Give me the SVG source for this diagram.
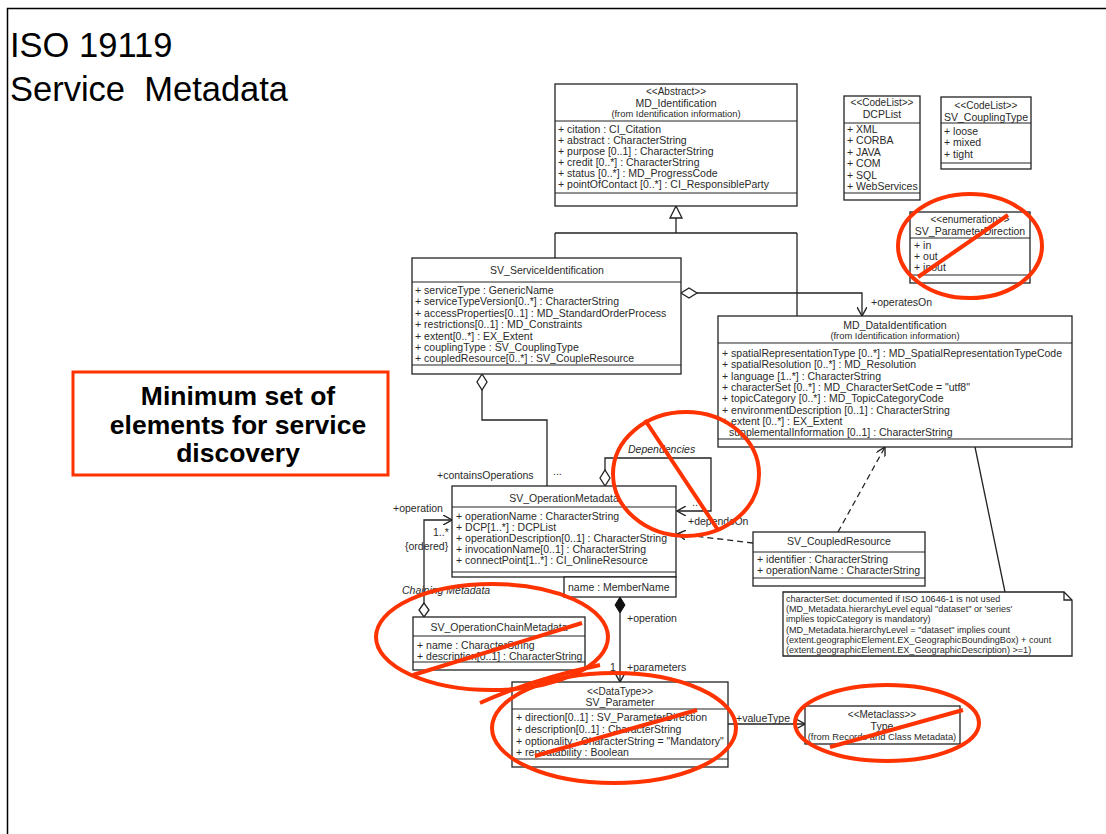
<svg xmlns="http://www.w3.org/2000/svg" width="1106" height="834" viewBox="0 0 1106 834">
<style>
.box{fill:#fff;stroke:#222;stroke-width:1.3}
.dv{stroke:#222;stroke-width:1.2}
.t{font-family:"Liberation Sans",Arial,sans-serif;font-size:10.5px;fill:#2a2a2a}
.s{font-size:10px}
.f{font-size:9.4px}
.nt{font-size:9.1px}
.c{text-anchor:middle}
.i{font-style:italic}
.ln{stroke:#222;stroke-width:1.3;fill:none}
.dash{stroke-dasharray:6 4}
.red{fill:none;stroke:#ff3300;stroke-width:4}
.hd{fill:#fff;stroke:#222;stroke-width:1.3}
.fd{fill:#111;stroke:#111;stroke-width:1}
.big{font-family:"Liberation Sans",Arial,sans-serif;font-size:26.5px;font-weight:bold;text-anchor:middle;fill:#000}
.ttl{font-family:"Liberation Sans",Arial,sans-serif;font-size:34.5px;fill:#000}
</style>
<defs>
<marker id="open" viewBox="0 0 10 10" refX="9" refY="5" markerWidth="10" markerHeight="10" markerUnits="userSpaceOnUse" orient="auto">
<path d="M0,0 L9,5 L0,10" fill="none" stroke="#222" stroke-width="1.4"/>
</marker>
</defs>
<rect width="1106" height="834" fill="#fff"/>
<path d="M7.5,834 V8.5 H1106" fill="none" stroke="#000" stroke-width="1.5"/>
<g id="title">
<text class="ttl" x="10" y="57">ISO 19119</text>
<text class="ttl" x="10" y="101" xml:space="preserve">Service  Metadata</text>
</g>
<g id="connectors">
<polygon class="hd" points="676,206 670,218 682,218"/>
<path class="ln" d="M676,218 V233 M555,233 H797 M555,233 V258 M797,233 V316"/>
<polygon class="hd" points="681,293 689,288 697,293 689,298"/>
<path class="ln" d="M697,293 H862 V316" marker-end="url(#open)"/>
<polygon class="hd" points="482,374 477,382 482,390 487,382"/>
<path class="ln" d="M482,390 V420 H547 V486"/>
<polygon class="hd" points="605,486 600,478 605,470 610,478"/>
<path class="ln" d="M605,470 V458 H711 V511 H677" marker-end="url(#open)"/>
<polygon class="hd" points="424,603 419,610 424,617 429,610"/>
<path class="ln" d="M424,603 V520 H452" marker-end="url(#open)"/>
<polygon class="fd" points="620,597 615,605 620,613 625,605"/>
<path class="ln" d="M620,613 V682" marker-end="url(#open)"/>
<path class="ln" d="M728,724 H805" marker-end="url(#open)"/>
<path class="ln dash" d="M753,543 L677,534" marker-end="url(#open)"/>
<path class="ln dash" d="M838,532 L885,447" marker-end="url(#open)"/>
<path class="ln" d="M975,447 L1005,592"/>
<text class="t" x="871" y="306">+operatesOn</text>
<text class="t" x="437" y="479">+containsOperations</text>
<text class="t" x="553" y="475">...</text>
<text class="t i" x="628" y="453">Dependencies</text>
<text class="t" x="688" y="525">+dependsOn</text>
<text class="t" x="692" y="506">..</text>
<text class="t" x="393" y="512">+operation</text>
<text class="t" x="433" y="536">1..*</text>
<text class="t" x="405" y="550">{ordered}</text>
<text class="t i" x="402" y="594">Chaining Metadata</text>
<text class="t" x="627" y="622">+operation</text>
<text class="t" x="610" y="671">1</text>
<text class="t" x="627" y="671">+parameters</text>
<text class="t" x="736" y="722">+valueType</text>
</g>
<g id="MD_Identification">
<rect class="box" x="555" y="84" width="242" height="122"/>
<text class="t s c" x="676" y="95">&lt;&lt;Abstract&gt;&gt;</text>
<text class="t c" x="676" y="107">MD_Identification</text>
<text class="t f c" x="676" y="117">(from Identification information)</text>
<line class="dv" x1="555" y1="121" x2="797" y2="121"/>
<text class="t" x="558" y="133">+ citation : CI_Citation</text>
<text class="t" x="558" y="144">+ abstract : CharacterString</text>
<text class="t" x="558" y="155">+ purpose [0..1] : CharacterString</text>
<text class="t" x="558" y="166">+ credit [0..*] : CharacterString</text>
<text class="t" x="558" y="177">+ status [0..*] : MD_ProgressCode</text>
<text class="t" x="558" y="188">+ pointOfContact [0..*] : CI_ResponsibleParty</text>
<line class="dv" x1="555" y1="193" x2="797" y2="193"/>
</g>
<g id="DCPList">
<rect class="box" x="844" y="96" width="76" height="104"/>
<text class="t s c" x="882" y="106">&lt;&lt;CodeList&gt;&gt;</text>
<text class="t c" x="882" y="118">DCPList</text>
<line class="dv" x1="844" y1="123" x2="920" y2="123"/>
<text class="t" x="847" y="133">+ XML</text>
<text class="t" x="847" y="144">+ CORBA</text>
<text class="t" x="847" y="156">+ JAVA</text>
<text class="t" x="847" y="167">+ COM</text>
<text class="t" x="847" y="178.5">+ SQL</text>
<text class="t" x="847" y="190">+ WebServices</text>
<line class="dv" x1="844" y1="193" x2="920" y2="193"/>
</g>
<g id="SV_CouplingType">
<rect class="box" x="941" y="97" width="90" height="72"/>
<text class="t s c" x="986" y="109">&lt;&lt;CodeList&gt;&gt;</text>
<text class="t c" x="986" y="121">SV_CouplingType</text>
<line class="dv" x1="941" y1="123" x2="1031" y2="123"/>
<text class="t" x="944" y="134.5">+ loose</text>
<text class="t" x="944" y="146">+ mixed</text>
<text class="t" x="944" y="158">+ tight</text>
<line class="dv" x1="941" y1="163" x2="1031" y2="163"/>
</g>
<g id="SV_ParameterDirection">
<rect class="box" x="910" y="212" width="120" height="71"/>
<text class="t s c" x="970" y="223">&lt;&lt;enumeration&gt;&gt;</text>
<text class="t c" x="970" y="235">SV_ParameterDirection</text>
<line class="dv" x1="910" y1="238" x2="1030" y2="238"/>
<text class="t" x="914" y="248.5">+ in</text>
<text class="t" x="914" y="259.5">+ out</text>
<text class="t" x="914" y="270.5">+ inout</text>
<line class="dv" x1="910" y1="275" x2="1030" y2="275"/>
</g>
<g id="SV_ServiceIdentification">
<rect class="box" x="412" y="258" width="269" height="116"/>
<text class="t c" x="547" y="274">SV_ServiceIdentification</text>
<line class="dv" x1="412" y1="282" x2="681" y2="282"/>
<text class="t" x="415" y="294">+ serviceType : GenericName</text>
<text class="t" x="415" y="305">+ serviceTypeVersion[0..*] : CharacterString</text>
<text class="t" x="415" y="316.5">+ accessProperties[0..1] : MD_StandardOrderProcess</text>
<text class="t" x="415" y="328">+ restrictions[0..1] : MD_Constraints</text>
<text class="t" x="415" y="339.5">+ extent[0..*] : EX_Extent</text>
<text class="t" x="415" y="350.5">+ couplingType : SV_CouplingType</text>
<text class="t" x="415" y="361.5">+ coupledResource[0..*] : SV_CoupleResource</text>
<line class="dv" x1="412" y1="365" x2="681" y2="365"/>
</g>
<g id="MD_DataIdentification">
<rect class="box" x="718" y="316" width="354" height="131"/>
<text class="t c" x="895" y="329">MD_DataIdentification</text>
<text class="t f c" x="895" y="339">(from Identification information)</text>
<line class="dv" x1="718" y1="343" x2="1072" y2="343"/>
<text class="t" x="722" y="357">+ spatialRepresentationType [0..*] : MD_SpatialRepresentationTypeCode</text>
<text class="t" x="722" y="368">+ spatialResolution [0..*] : MD_Resolution</text>
<text class="t" x="722" y="379.5">+ language [1..*] : CharacterString</text>
<text class="t" x="722" y="391">+ characterSet [0..*] : MD_CharacterSetCode = "utf8"</text>
<text class="t" x="722" y="402">+ topicCategory [0..*] : MD_TopicCategoryCode</text>
<text class="t" x="722" y="413.5">+ environmentDescription  [0..1] : CharacterString</text>
<text class="t" x="722" y="425">+ extent [0..*] : EX_Extent</text>
<text class="t" x="729" y="436">supplementalInformation [0..1] : CharacterString</text>
<line class="dv" x1="718" y1="439" x2="1072" y2="439"/>
</g>
<g id="SV_OperationMetadata">
<rect class="box" x="452" y="486" width="224" height="91"/>
<text class="t c" x="564" y="501.5">SV_OperationMetadata</text>
<line class="dv" x1="452" y1="507" x2="676" y2="507"/>
<text class="t" x="456" y="519.5">+ operationName : CharacterString</text>
<text class="t" x="456" y="530.5">+ DCP[1..*] : DCPList</text>
<text class="t" x="456" y="542">+ operationDescription[0..1] : CharacterString</text>
<text class="t" x="456" y="553">+ invocationName[0..1] : CharacterString</text>
<text class="t" x="456" y="564">+ connectPoint[1..*] : CI_OnlineResource</text>
<line class="dv" x1="452" y1="572" x2="676" y2="572"/>
<rect class="box" x="564" y="577" width="112" height="20"/>
<text class="t" x="568" y="591">name : MemberName</text>
</g>
<g id="SV_CoupledResource">
<rect class="box" x="753" y="532" width="172" height="54"/>
<text class="t c" x="839" y="545">SV_CoupledResource</text>
<line class="dv" x1="753" y1="552" x2="925" y2="552"/>
<text class="t" x="757" y="563">+ identifier : CharacterString</text>
<text class="t" x="757" y="574">+ operationName : CharacterString</text>
<line class="dv" x1="753" y1="578" x2="925" y2="578"/>
</g>
<g id="note">
<path class="box" d="M783,592 H1064 L1072,600 V656 H783 Z"/>
<path class="ln" d="M1064,592 V600 H1072"/>
<text class="t nt" x="786" y="602">characterSet: documented if ISO 10646-1 is not used</text>
<text class="t nt" x="786" y="612.2">(MD_Metadata.hierarchyLevel equal "dataset" or 'series'</text>
<text class="t nt" x="786" y="622.4">implies topicCategory is mandatory)</text>
<text class="t nt" x="786" y="632.6">(MD_Metadata.hierarchyLevel = "dataset" implies count</text>
<text class="t nt" x="786" y="642.8">(extent.geographicElement.EX_GeographicBoundingBox) + count</text>
<text class="t nt" x="786" y="653">(extent.geographicElement.EX_GeographicDescription) &gt;=1)</text>
</g>
<g id="SV_OperationChainMetadata">
<rect class="box" x="413" y="617" width="172" height="53"/>
<text class="t c" x="499" y="631">SV_OperationChainMetadata</text>
<line class="dv" x1="413" y1="636" x2="585" y2="636"/>
<text class="t" x="417" y="648.5">+ name : CharacterString</text>
<text class="t" x="417" y="659.5">+ description[0..1] : CharacterString</text>
<line class="dv" x1="413" y1="662" x2="585" y2="662"/>
</g>
<g id="SV_Parameter">
<rect class="box" x="512" y="682" width="216" height="85"/>
<text class="t s c" x="620" y="695">&lt;&lt;DataType&gt;&gt;</text>
<text class="t c" x="620" y="706">SV_Parameter</text>
<line class="dv" x1="512" y1="709" x2="728" y2="709"/>
<text class="t" x="516" y="721">+ direction[0..1] : SV_ParameterDirection</text>
<text class="t" x="516" y="732.5">+ description[0..1] : CharacterString</text>
<text class="t" x="516" y="744.5">+ optionality : CharacterString = "Mandatory"</text>
<text class="t" x="516" y="756">+ repeatability : Boolean</text>
<line class="dv" x1="512" y1="759" x2="728" y2="759"/>
</g>
<g id="Type">
<rect class="box" x="805" y="706" width="155" height="38"/>
<text class="t s c" x="882" y="718">&lt;&lt;Metaclass&gt;&gt;</text>
<text class="t c" x="882" y="729.5">Type</text>
<text class="t f c" x="882" y="740">(from Records and Class Metadata)</text>
</g>
<g id="annotations">
<rect x="73" y="372" width="315" height="103" fill="#fff" stroke="#ff3300" stroke-width="3"/>
<text class="big" x="238" y="405">Minimum set of</text>
<text class="big" x="238" y="434">elements for service</text>
<text class="big" x="238" y="462">discovery</text>
<ellipse class="red" cx="970" cy="246" rx="72" ry="52"/>
<line class="red" x1="918" y1="277" x2="1008" y2="215"/>
<ellipse class="red" cx="686" cy="474" rx="73" ry="62"/>
<line class="red" x1="645" y1="420" x2="718" y2="530"/>
<ellipse class="red" cx="492" cy="637" rx="116" ry="53"/>
<line class="red" x1="413" y1="675" x2="582" y2="623"/>
<ellipse class="red" cx="614" cy="728" rx="122" ry="55"/>
<path class="red" d="M480,703 Q530,680 600,665"/>
<line class="red" x1="535" y1="756" x2="697" y2="710"/>
<ellipse class="red" cx="887" cy="723" rx="92" ry="38"/>
<line class="red" x1="830" y1="747" x2="963" y2="710"/>
</g>
</svg>
